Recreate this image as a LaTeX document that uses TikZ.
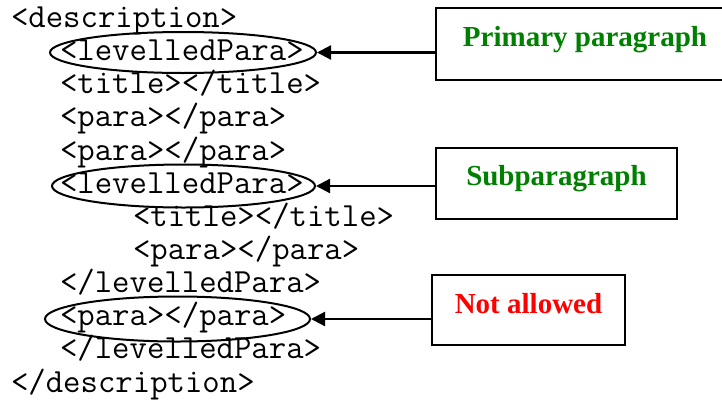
\documentclass[tikz,border=0pt]{standalone}
\usepackage{fontspec}
\setmainfont{Liberation Serif}
\usetikzlibrary{arrows.meta,shapes.geometric}
\definecolor{lblgreen}{RGB}{0,128,0}
\definecolor{lblred}{RGB}{255,0,0}
\begin{document}
\begin{tikzpicture}[x=1pt,y=-1pt,
  code/.style={anchor=base west, inner sep=0pt, outer sep=0pt, font=\ttfamily\fontsize{33.8}{33}\selectfont},
  oval/.style={draw, ellipse, line width=2pt, inner sep=0pt},
  labelbox/.style={draw, line width=2.2pt, anchor=north west, inner sep=0pt, outer sep=0pt,
    font=\bfseries\fontsize{29}{33}\selectfont, align=center},
  pointer/.style={line width=2.2pt, -{Triangle[length=14pt,width=14pt]}}]
\useasboundingbox (0,0) rectangle (722,399);

\node[code] (l0)  at (11,27.5)  {<description>};
\node[code] (l1)  at (60,60.6)  {<levelledPara>};
\node[code] (l2)  at (60,93.8)  {<title></title>};
\node[code] (l3)  at (60,126.9) {<para></para>};
\node[code] (l4)  at (60,160.1) {<para></para>};
\node[code] (l5)  at (60,193.2) {<levelledPara>};
\node[code] (l6)  at (133,226.3) {<title></title>};
\node[code] (l7)  at (133,259.5) {<para></para>};
\node[code] (l8)  at (60,292.6) {</levelledPara>};
\node[code] (l9)  at (60,325.8) {<para></para>};
\node[code] (l10) at (60,358.9) {</levelledPara>};
\node[code] (l11) at (11,392)   {</description>};

\node[oval, minimum width=266pt, minimum height=41pt] (e1) at (183,52.5) {};
\node[oval, minimum width=263pt, minimum height=43pt] (e2) at (183.5,186) {};
\node[oval, minimum width=265pt, minimum height=45pt] (e3) at (177.5,319) {};

\node[labelbox, minimum width=298pt, text height=38pt, text depth=34pt, text=lblgreen] (b1) at (436,8) {Primary paragraph};
\node[labelbox, minimum width=241pt, text height=37pt, text depth=34pt, text=lblgreen] (b2) at (436,148) {Subparagraph};
\node[labelbox, minimum width=193pt, text height=38pt, text depth=32pt, text=lblred] (b3) at (432,275) {Not allowed};

\draw[pointer] (b1.west |- e1.east) -- (e1.east);
\draw[pointer] (b2.west |- e2.east) -- (e2.east);
\draw[pointer] (b3.west |- e3.east) -- (e3.east);
\end{tikzpicture}
\end{document}
